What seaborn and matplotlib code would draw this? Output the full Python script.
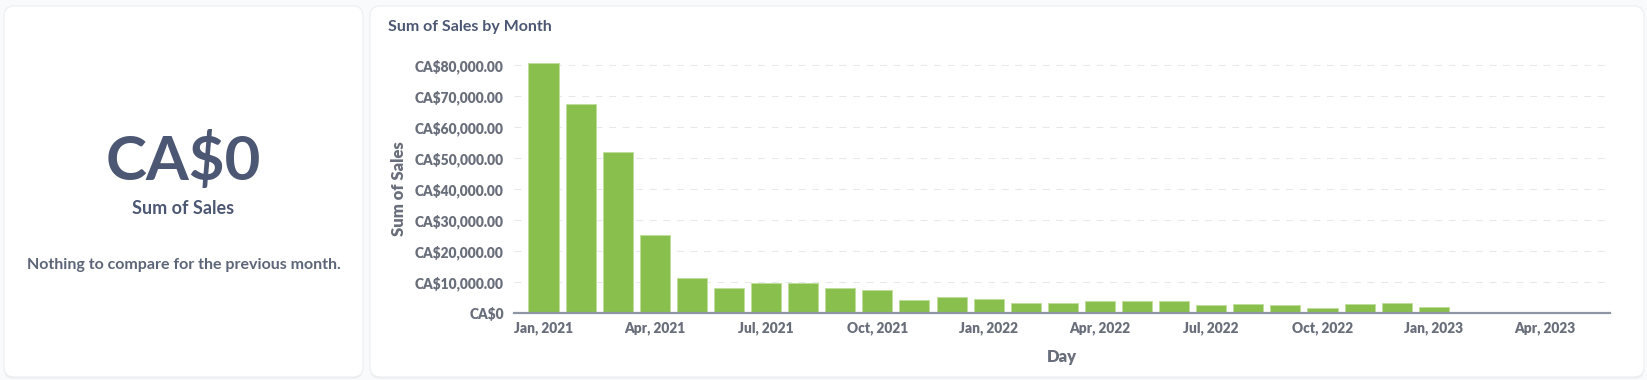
import numpy as np
import pandas as pd
import matplotlib
matplotlib.use("Agg")
import matplotlib.pyplot as plt
from matplotlib.patches import FancyBboxPatch
import seaborn as sns

# ---------------- data ----------------
months = ["Jan 2021", "Feb 2021", "Mar 2021", "Apr 2021", "May 2021", "Jun 2021",
          "Jul 2021", "Aug 2021", "Sep 2021", "Oct 2021", "Nov 2021", "Dec 2021",
          "Jan 2022", "Feb 2022", "Mar 2022", "Apr 2022", "May 2022", "Jun 2022",
          "Jul 2022", "Aug 2022", "Sep 2022", "Oct 2022", "Nov 2022", "Dec 2022",
          "Jan 2023", "Feb 2023", "Mar 2023"]
sales = [80650, 67600, 52030, 25260, 11490, 8160,
         9680, 9680, 8160, 7420, 4390, 5150,
         4720, 3320, 3320, 4070, 4070, 4070,
         2580, 3000, 2580, 1810, 3000, 3320,
         2150, 420, 420]
tick_labels = ["Jan, 2021", "Apr, 2021", "Jul, 2021", "Oct, 2021", "Jan, 2022",
               "Apr, 2022", "Jul, 2022", "Oct, 2022", "Jan, 2023", "Apr, 2023"]
y_ticks = [0, 10000, 20000, 30000, 40000, 50000, 60000, 70000, 80000]
kpi_value = "CA$0"
kpi_label = "Sum of Sales"
kpi_note = "Nothing to compare for the previous month."
chart_title = "Sum of Sales by Month"

# ---------------- style ----------------
sns.set_theme(style="white")
plt.rcParams["font.family"] = ["Lato", "DejaVu Sans"]
plt.rcParams["font.weight"] = "bold"
plt.rcParams["axes.labelweight"] = "bold"

W, H = 1647, 380
DPI = 100
BG = "#F9FAFB"
DARK = "#4C5773"
GRAY = "#696E7B"
GREEN = "#88BF4D"
AXIS = "#9095A4"
HEAVY = "heavy"

fig = plt.figure(figsize=(W / DPI, H / DPI), dpi=DPI)
fig.patch.set_facecolor(BG)


def px_box(x0, y0, x1, y1):
    """pixel box (top-left origin) -> figure fraction"""
    return x0 / W, 1 - y1 / H, (x1 - x0) / W, (y1 - y0) / H


def card(x0, y0, x1, y1):
    l, b, w, h = px_box(x0, y0, x1, y1)
    sh = FancyBboxPatch((l, b - 1.5 / H), w, h, boxstyle="round,pad=0,rounding_size=0.006",
                        transform=fig.transFigure, facecolor="#E9ECF0", edgecolor="none",
                        zorder=0, mutation_aspect=W / H)
    fig.patches.append(sh)
    p = FancyBboxPatch((l, b), w, h, boxstyle="round,pad=0,rounding_size=0.006",
                       transform=fig.transFigure, facecolor="white", edgecolor="#ECEEF2",
                       linewidth=0.8, zorder=0.5, mutation_aspect=W / H)
    fig.patches.append(p)


card(4, 6, 363, 377)
card(370, 6, 1644, 377)

# ---------------- KPI card ----------------
cx = 183.5 / W
fig.text(cx, 1 - 160 / H, kpi_value, ha="center", va="center", fontsize=44.5,
         fontweight="bold", color=DARK, zorder=3)
fig.text(cx, 1 - 208 / H, kpi_label, ha="center", va="center", fontsize=13,
         fontweight="bold", color=DARK, zorder=3)
fig.text(cx, 1 - 265 / H, kpi_note, ha="center", va="center", fontsize=11.5,
         fontweight="bold", color="#5D6578", zorder=3)

# ---------------- chart ----------------
fig.text(387.5 / W, 1 - 27 / H, chart_title, ha="left", va="center", fontsize=11.5,
         fontweight="bold", color=DARK, zorder=3)

ax_left, ax_right = 514.3, 1610.0
ax_bottom = 313.3
px_per_10k = 31.0
y_top_val = 82000
ax_top = ax_bottom - y_top_val / 10000 * px_per_10k
ax = fig.add_axes([ax_left / W, 1 - ax_bottom / H, (ax_right - ax_left) / W,
                   (ax_bottom - ax_top) / H])
ax.set_zorder(2)
ax.set_facecolor("none")

df = pd.DataFrame({"month": months, "sales": sales})
sns.barplot(data=df, x="month", y="sales", color=GREEN, saturation=1, width=0.81,
            edgecolor="#BFDE9C", linewidth=0.7, ax=ax, zorder=3)

ax.set_ylim(0, y_top_val)
ax.set_xlim(-0.787, 28.75)
ax.set_yticks(y_ticks)
ax.set_yticklabels(["CA$0"] + [f"CA${v:,.2f}" for v in y_ticks[1:]], fontweight=HEAVY)
ax.set_xticks(list(range(0, 3 * len(tick_labels), 3)))
ax.set_xticklabels(tick_labels, fontweight=HEAVY)

ax.set_axisbelow(True)
ax.yaxis.grid(True, color="#E6E8EC", linestyle=(0, (6.5, 6.5)), linewidth=0.75)
ax.xaxis.grid(False)
for s in ["top", "right", "left"]:
    ax.spines[s].set_visible(False)
ax.spines["bottom"].set_color(AXIS)
ax.spines["bottom"].set_linewidth(1.6)
ax.spines["bottom"].set_zorder(4)

ax.tick_params(axis="y", length=0, pad=7.5, labelsize=9.9, labelcolor=GRAY)
ax.tick_params(axis="x", which="major", length=0, pad=5.5, labelsize=9.9, labelcolor=GRAY)

# end ticks of the x axis
ax.set_xticks(list(ax.get_xlim()), minor=True)
ax.tick_params(axis="x", which="minor", length=5.5, width=1.6, color=AXIS)

ax.set_xlabel("Day", fontsize=12, fontweight=HEAVY, color=GRAY, labelpad=10)
ax.set_ylabel("Sum of Sales", fontsize=12, fontweight=HEAVY, color=GRAY, va="center")
ax.yaxis.set_label_coords((399 - ax_left) / (ax_right - ax_left),
                          (ax_bottom - 189) / (ax_bottom - ax_top))

fig.savefig("out.png", dpi=DPI, facecolor=BG)
